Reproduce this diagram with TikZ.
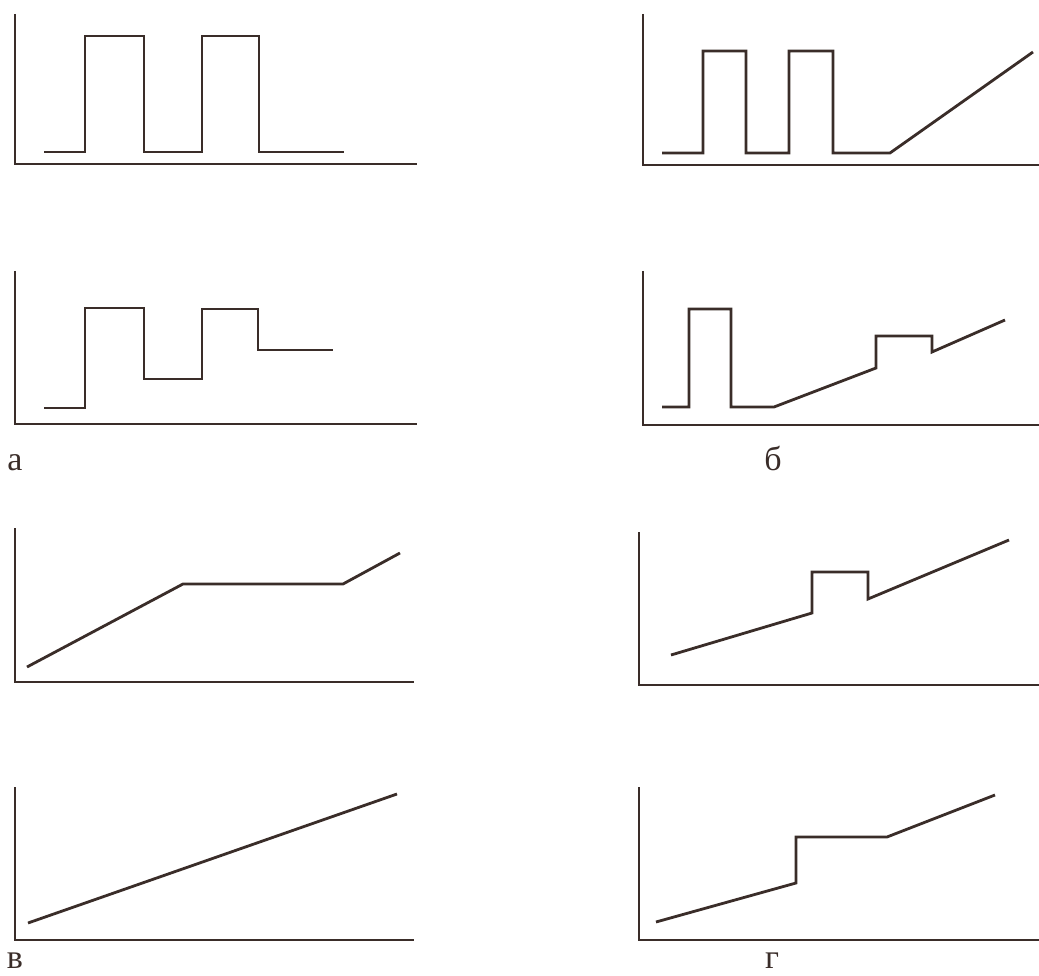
\documentclass[tikz,border=0pt]{standalone}
\usepackage{fontspec}
\setmainfont{Liberation Serif}
\definecolor{ink}{HTML}{3A2D29}
\begin{document}
\begin{tikzpicture}[x=1pt,y=-1pt,line width=2.8pt,ink,font=\fontsize{34}{40}\selectfont]
	\useasboundingbox (0,0) rectangle (1039,976);
	% axes
	\coordinate (A1y) at (15,14);  \coordinate (A1o) at (15,164);  \coordinate (A1x) at (417,164);
	\coordinate (A2y) at (15,271); \coordinate (A2o) at (15,424);  \coordinate (A2x) at (417,424);
	\coordinate (B1y) at (643,14); \coordinate (B1o) at (643,165); \coordinate (B1x) at (1039,165);
	\coordinate (B2y) at (643,271);\coordinate (B2o) at (643,425); \coordinate (B2x) at (1039,425);
	\coordinate (V1y) at (15,528); \coordinate (V1o) at (15,682);  \coordinate (V1x) at (414,682);
	\coordinate (V2y) at (15,787); \coordinate (V2o) at (15,940);  \coordinate (V2x) at (414,940);
	\coordinate (G1y) at (639,532);\coordinate (G1o) at (639,685); \coordinate (G1x) at (1039,685);
	\coordinate (G2y) at (639,787);\coordinate (G2o) at (639,940); \coordinate (G2x) at (1039,940);
	\draw (A1y) -- (A1o) -- (A1x);
	\draw (A2y) -- (A2o) -- (A2x);
	\draw (B1y) -- (B1o) -- (B1x);
	\draw (B2y) -- (B2o) -- (B2x);
	\draw (V1y) -- (V1o) -- (V1x);
	\draw (V2y) -- (V2o) -- (V2x);
	\draw (G1y) -- (G1o) -- (G1x);
	\draw (G2y) -- (G2o) -- (G2x);
	% signals
	\draw (44,152) -- (85,152) -- (85,36) -- (144,36) -- (144,152) -- (202,152) -- (202,36) -- (259,36) -- (259,152) -- (344,152);
	\draw (44,408) -- (85,408) -- (85,308) -- (144,308) -- (144,379) -- (202,379) -- (202,309) -- (258,309) -- (258,350) -- (333,350);
	\draw (662,153) -- (703,153) -- (703,51) -- (746,51) -- (746,153) -- (789,153) -- (789,51) -- (833,51) -- (833,153) -- (890,153) -- (1033,52);
	\draw (662,407) -- (689,407) -- (689,309) -- (731,309) -- (731,407) -- (774,407) -- (876,368) -- (876,336) -- (932,336) -- (932,352) -- (1005,320);
	\draw (27,667) -- (183,584) -- (343,584) -- (400,553);
	\draw (28,923) -- (397,794);
	\draw (671,655) -- (812,613) -- (812,572) -- (868,572) -- (868,599) -- (1009,540);
	\draw (656,922) -- (796,883) -- (796,837) -- (887,837) -- (995,795);
	% labels
	\node (la) [anchor=base,inner sep=0pt] at (15,470) {а};
	\node (lb) [anchor=base,inner sep=0pt] at (773,470) {б};
	\node (lv) [anchor=base,inner sep=0pt] at (15,968) {в};
	\node (lg) [anchor=base,inner sep=0pt] at (772,968) {г};
\end{tikzpicture}
\end{document}
